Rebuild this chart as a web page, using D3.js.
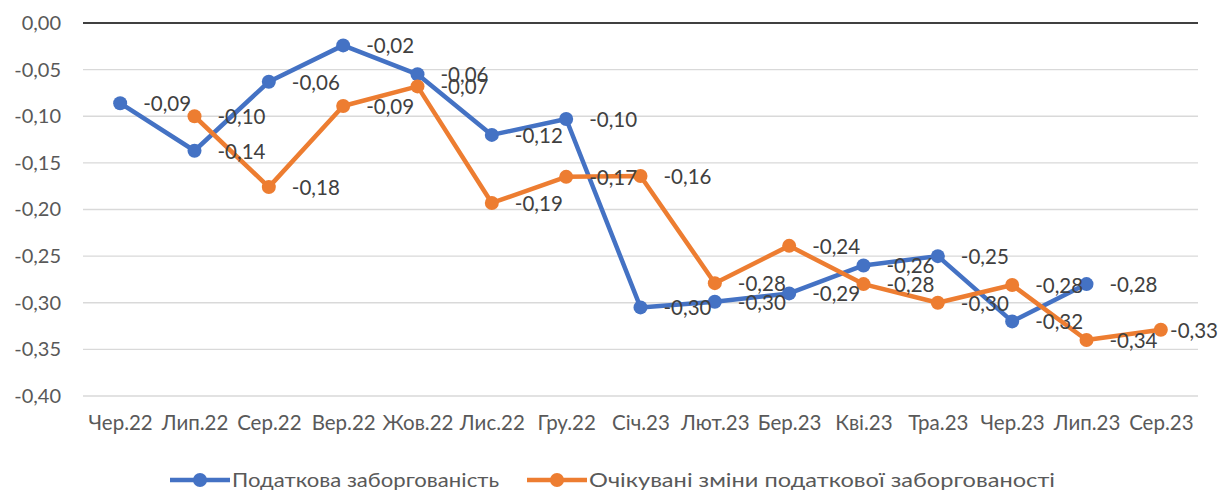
<!DOCTYPE html>
<html>
<head>
<meta charset="utf-8">
<script src="https://cdn.jsdelivr.net/npm/d3@7/dist/d3.min.js"></script>
<style>
  body { margin: 0; background: #fff; }
  svg { display: block; font-family: Lato, "Open Sans", sans-serif; }
</style>
</head>
<body>
<div id="chart"></div>
<script>
// months on the x axis
const months = ['Чер.22', 'Лип.22', 'Сер.22', 'Вер.22', 'Жов.22', 'Лис.22', 'Гру.22',
                'Січ.23', 'Лют.23', 'Бер.23', 'Кві.23', 'Тра.23', 'Чер.23', 'Лип.23', 'Сер.23'];

// tax debt (blue); null = no point
const taxDebt = [-0.086, -0.137, -0.063, -0.024, -0.055, -0.120, -0.103,
                 -0.305, -0.299, -0.290, -0.260, -0.250, -0.320, -0.280, null];

// expected changes of tax debt (orange)
const expectedChange = [null, -0.100, -0.176, -0.089, -0.068, -0.193, -0.165,
                        -0.164, -0.279, -0.239, -0.280, -0.300, -0.281, -0.340, -0.329];

const yTicks = [0, -0.05, -0.10, -0.15, -0.20, -0.25, -0.30, -0.35, -0.40];

const seriesList = [
    { name: 'Податкова заборгованість', values: taxDebt, color: '#4472C4' },
    { name: 'Очікувані зміни податкової заборгованості', values: expectedChange, color: '#ED7D31' }
];

const W = 1220, H = 491;
const plot = { left: 83, right: 1198, top: 23, bottom: 396 };

const fmt = v => d3.format('.2f')(v).replace('.', ',').replace('−', '-');

const svg = d3.select('#chart').append('svg')
    .attr('width', W)
    .attr('height', H);

const x = d3.scalePoint()
    .domain(months)
    .range([plot.left, plot.right])
    .padding(0.5);

const y = d3.scaleLinear()
    .domain([-0.40, 0])
    .range([plot.bottom, plot.top]);

// gridlines
svg.append('g')
    .selectAll('line')
    .data(yTicks.filter(t => t !== 0))
    .join('line')
    .attr('x1', plot.left)
    .attr('x2', plot.right)
    .attr('y1', d => y(d))
    .attr('y2', d => y(d))
    .attr('stroke', '#d9d9d9')
    .attr('stroke-width', 1.3);

// zero line (category axis sits at the top)
svg.append('line')
    .attr('x1', plot.left)
    .attr('x2', plot.right)
    .attr('y1', y(0))
    .attr('y2', y(0))
    .attr('stroke', '#000')
    .attr('stroke-width', 1.5);

// y axis labels
const yAxis = svg.append('g')
    .attr('transform', `translate(${plot.left - 22},0)`)
    .call(d3.axisLeft(y).tickValues(yTicks).tickSize(0).tickPadding(0).tickFormat(fmt));
yAxis.select('.domain').remove();
yAxis.selectAll('text')
    .attr('fill', '#595959')
    .style('font-size', '20px')
    .style('font-family', 'Lato, sans-serif');

// x axis labels
const xAxis = svg.append('g')
    .attr('transform', `translate(0,${plot.bottom + 19})`)
    .call(d3.axisBottom(x).tickSize(0).tickPadding(0));
xAxis.select('.domain').remove();
xAxis.selectAll('text')
    .attr('fill', '#595959')
    .style('font-size', '20.5px')
    .style('font-family', 'Lato, sans-serif');

// lines, markers
seriesList.forEach(s => {
    const pts = months.map((m, i) => ({ m, v: s.values[i] })).filter(d => d.v != null);

    const line = d3.line()
        .x(d => x(d.m))
        .y(d => y(d.v));

    svg.append('path')
        .datum(pts)
        .attr('fill', 'none')
        .attr('stroke', s.color)
        .attr('stroke-width', 4.5)
        .attr('stroke-linejoin', 'round')
        .attr('d', line);

    svg.append('g')
        .selectAll('circle')
        .data(pts)
        .join('circle')
        .attr('cx', d => x(d.m))
        .attr('cy', d => y(d.v))
        .attr('r', 7)
        .attr('fill', s.color);
});

// data labels drawn last so they sit above both lines
seriesList.forEach(s => {
    const pts = months.map((m, i) => ({ m, v: s.values[i] })).filter(d => d.v != null);
    svg.append('g')
        .selectAll('text')
        .data(pts)
        .join('text')
        .attr('x', d => x(d.m) + 23)
        .attr('y', d => y(d.v))
        .attr('dy', '0.38em')
        .attr('fill', '#404040')
        .style('font-size', '20.5px')
        .text(d => fmt(d.v))
        .each(function() {
            // keep labels inside the chart area, like Excel does
            const w = this.getComputedTextLength();
            const xx = +this.getAttribute('x');
            if (xx + w > W - 2) this.setAttribute('x', W - 2 - w);
        });
});

// legend
const legendItems = [
    { s: seriesList[0], x0: 170, tx: 232, tw: 267 },
    { s: seriesList[1], x0: 527, tx: 589, tw: 466 }
];
const ly = 480;
legendItems.forEach(li => {
    svg.append('line')
        .attr('x1', li.x0)
        .attr('x2', li.x0 + 60)
        .attr('y1', ly)
        .attr('y2', ly)
        .attr('stroke', li.s.color)
        .attr('stroke-width', 4.5);
    svg.append('circle')
        .attr('cx', li.x0 + 30)
        .attr('cy', ly)
        .attr('r', 7)
        .attr('fill', li.s.color);
    svg.append('text')
        .attr('x', li.tx)
        .attr('y', ly)
        .attr('dy', '0.36em')
        .attr('fill', '#595959')
        .attr('textLength', li.tw)
        .attr('lengthAdjust', 'spacingAndGlyphs')
        .style('font-size', '20px')
        .text(li.s.name);
});
</script>
</body>
</html>
